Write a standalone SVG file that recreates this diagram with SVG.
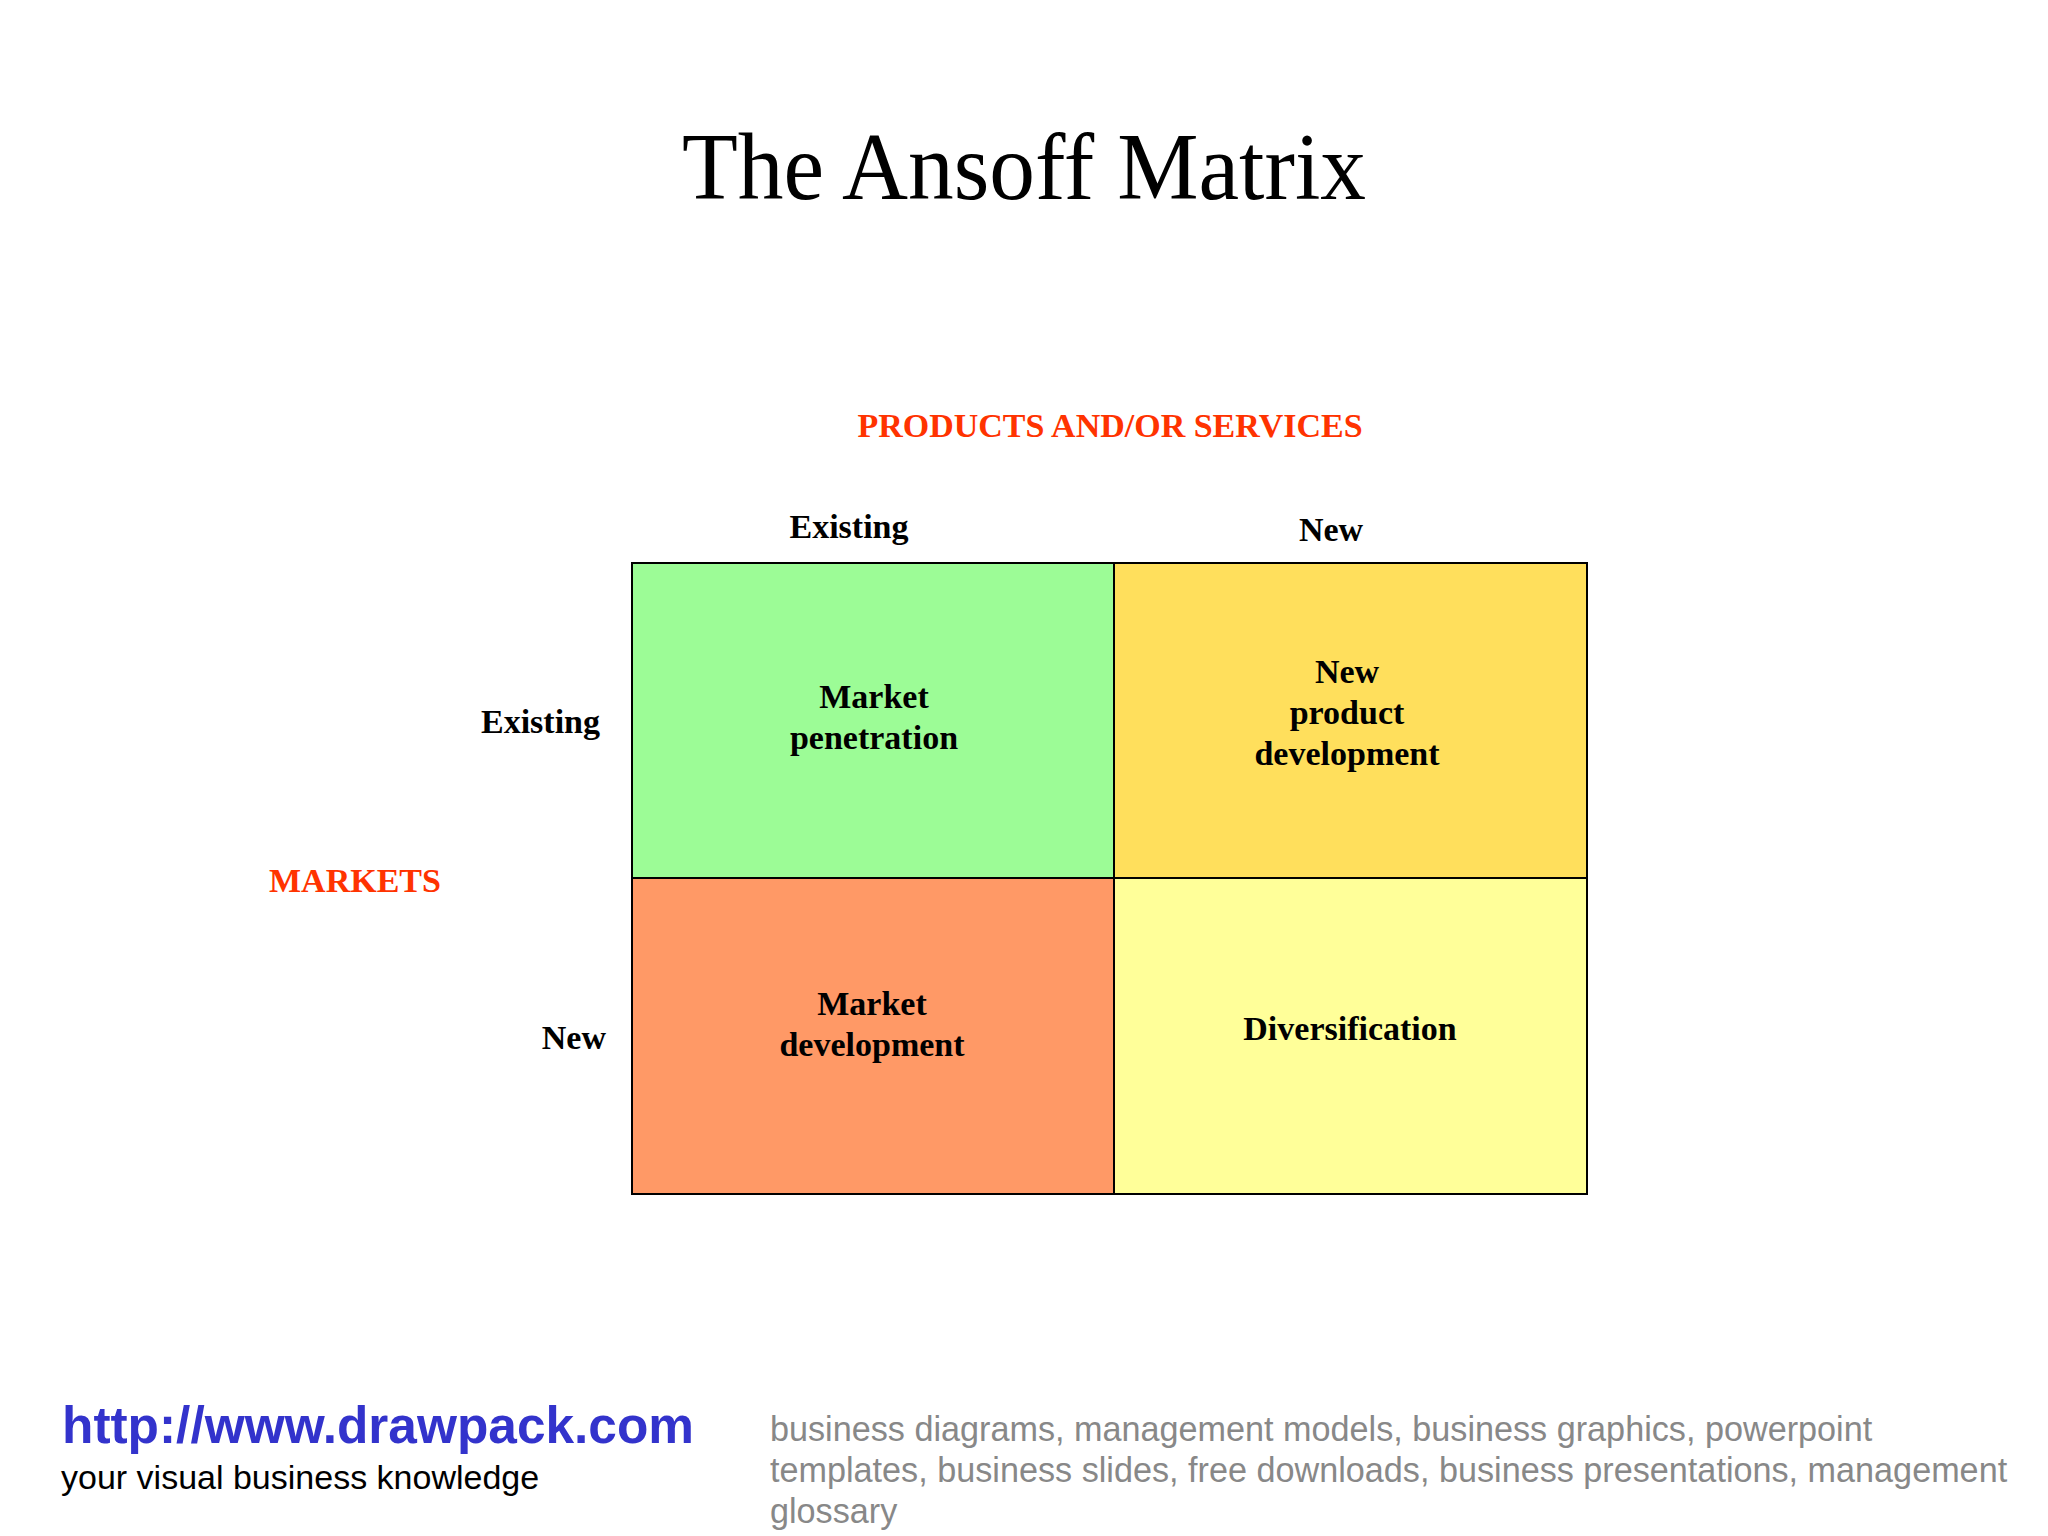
<svg xmlns="http://www.w3.org/2000/svg" width="2048" height="1536" viewBox="0 0 2048 1536">
<style>
.serif{font-family:"Liberation Serif","Times New Roman",serif}
.b{font-weight:bold;font-size:34px;fill:#000}
.red{fill:#FF3300}
.mid{text-anchor:middle}
.end{text-anchor:end}
.cell{stroke:#000;stroke-width:2}
.sans{font-family:"Liberation Sans",Arial,sans-serif}
</style>
<rect width="2048" height="1536" fill="#fff"/>
<text class="serif mid" x="1024" y="199" font-size="96" textLength="684" lengthAdjust="spacingAndGlyphs">The Ansoff Matrix</text>
<text class="serif b red mid" x="1110" y="437">PRODUCTS AND/OR SERVICES</text>
<text class="serif b mid" x="849" y="538">Existing</text>
<text class="serif b mid" x="1331" y="541">New</text>
<text class="serif b end" x="600" y="733">Existing</text>
<text class="serif b end" x="606" y="1049">New</text>
<text class="serif b red mid" x="355" y="892">MARKETS</text>
<g id="market-penetration">
<rect class="cell" x="632" y="563" width="482" height="315" fill="#9CFC96"/>
<text class="serif b mid" x="874" y="708">Market</text>
<text class="serif b mid" x="874" y="749">penetration</text>
</g>
<g id="new-product-development">
<rect class="cell" x="1114" y="563" width="473" height="315" fill="#FFDF5C"/>
<text class="serif b mid" x="1347" y="683">New</text>
<text class="serif b mid" x="1347" y="724">product</text>
<text class="serif b mid" x="1347" y="765">development</text>
</g>
<g id="market-development">
<rect class="cell" x="632" y="878" width="482" height="316" fill="#FF9966"/>
<text class="serif b mid" x="872" y="1015">Market</text>
<text class="serif b mid" x="872" y="1056">development</text>
</g>
<g id="diversification">
<rect class="cell" x="1114" y="878" width="473" height="316" fill="#FFFF99"/>
<text class="serif b mid" x="1350" y="1040">Diversification</text>
</g>
<g id="connectors"/>
<text class="sans" x="62" y="1443" font-size="51.4" font-weight="bold" fill="#3333CC">http://www.drawpack.com</text>
<text class="sans" x="61" y="1489" font-size="34" fill="#000">your visual business knowledge</text>
<g class="sans" font-size="34.2" fill="#888">
<text x="770" y="1441">business diagrams, management models, business graphics, powerpoint</text>
<text x="770" y="1482">templates, business slides, free downloads, business presentations, management</text>
<text x="770" y="1523">glossary</text>
</g>
</svg>
